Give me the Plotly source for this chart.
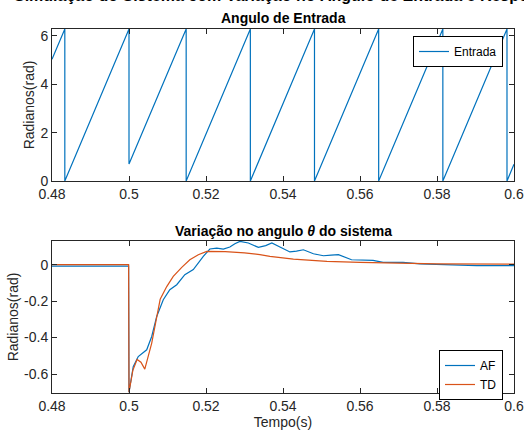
import plotly.graph_objects as go

# ---- Data ----
# Input angle (sawtooth) vertices
entrada_t = [0.48, 0.48333, 0.48333, 0.5, 0.5, 0.51485, 0.51485, 0.53152, 0.53152,
             0.54818, 0.54818, 0.56485, 0.56485, 0.58152, 0.58152, 0.59818, 0.59818, 0.6]
entrada_v = [5.03, 6.283, 0.0, 6.283, 0.70, 6.283, 0.0, 6.283, 0.0,
             6.283, 0.0, 6.283, 0.0, 6.283, 0.0, 6.283, 0.0, 0.69]

# AF response
af_t = [0.48, 0.4999, 0.5, 0.5011, 0.5024, 0.5037, 0.5046, 0.5059, 0.5072, 0.5089,
        0.5106, 0.5124, 0.5145, 0.5167, 0.5193, 0.521, 0.5228, 0.5245, 0.5262, 0.5275,
        0.5288, 0.531, 0.5336, 0.5355, 0.5371, 0.5392, 0.5418, 0.5435, 0.5453, 0.5479,
        0.5505, 0.5525, 0.5544, 0.5578, 0.5610, 0.5634, 0.566, 0.5712, 0.5756, 0.5825,
        0.5903, 0.6]
af_v = [-0.008, -0.008, -0.70, -0.56, -0.504, -0.482, -0.467, -0.394, -0.284, -0.192,
        -0.137, -0.11, -0.055, -0.027, 0.046, 0.086, 0.091, 0.086, 0.097, 0.115,
        0.128, 0.119, 0.095, 0.105, 0.119, 0.097, 0.07, 0.074, 0.082, 0.06,
        0.049, 0.053, 0.055, 0.027, 0.026, 0.024, 0.013, 0.013, 0.005, 0.0,
        -0.005, -0.005]

# TD response
td_t = [0.48, 0.4999, 0.5, 0.5010, 0.5021, 0.5031, 0.5041, 0.5050, 0.5059, 0.5070,
        0.5081, 0.5098, 0.5115, 0.5137, 0.5158, 0.518, 0.5202, 0.525, 0.53, 0.534,
        0.5366, 0.5427, 0.5514, 0.56, 0.5686, 0.58, 0.6]
td_v = [0.0, 0.0, -0.70, -0.58, -0.52, -0.535, -0.573, -0.50, -0.43, -0.31,
        -0.19, -0.12, -0.064, -0.015, 0.027, 0.055, 0.073, 0.072, 0.065, 0.055,
        0.046, 0.031, 0.018, 0.013, 0.009, 0.004, 0.003]

x_ticks = [0.48, 0.5, 0.52, 0.54, 0.56, 0.58, 0.6]
x_tick_text = ["0.48", "0.5", "0.52", "0.54", "0.56", "0.58", "0.6"]
top_y_ticks = [0, 2, 4, 6]
bot_y_ticks = [-0.6, -0.4, -0.2, 0]
bot_y_text = ["-0.6", "-0.4", "-0.2", "0"]

BLUE = "#0072BD"
ORANGE = "#D95319"
AX = "#262626"
FONT = "Liberation Sans, Arial, sans-serif"

W, H = 524, 432
ml, mr, mt, mb = 52, 10, 29, 39
ph = H - mt - mb
top_dom = [(H - mb - 181) / ph, 1.0]
bot_dom = [0.0, (H - mb - 241) / ph]

fig = go.Figure()
fig.add_trace(go.Scatter(x=entrada_t, y=entrada_v, mode="lines", name="Entrada",
                         line=dict(color=BLUE, width=1.2), xaxis="x", yaxis="y",
                         legend="legend"))
fig.add_trace(go.Scatter(x=af_t, y=af_v, mode="lines", name="AF",
                         line=dict(color=BLUE, width=1.2),
                         xaxis="x2", yaxis="y2", legend="legend2"))
fig.add_trace(go.Scatter(x=td_t, y=td_v, mode="lines", name="TD",
                         line=dict(color=ORANGE, width=1.2),
                         xaxis="x2", yaxis="y2", legend="legend2"))

axcommon = dict(showline=True, linecolor=AX, linewidth=1, mirror="ticks",
                ticks="inside", ticklen=5, tickcolor=AX, showgrid=False, zeroline=False,
                automargin=False,
                tickfont=dict(family=FONT, size=14, color=AX))

fig.update_layout(
    width=W, height=H,
    margin=dict(l=ml, r=mr, t=mt, b=mb),
    paper_bgcolor="white", plot_bgcolor="white",
    font=dict(family=FONT, color=AX),
    xaxis=dict(domain=[0, 1], anchor="y", range=[0.48, 0.6], tickvals=x_ticks,
               ticktext=x_tick_text, **axcommon),
    yaxis=dict(domain=top_dom, anchor="x", range=[0, 6.2832], tickvals=top_y_ticks,
               title=dict(text="Radianos(rad)", font=dict(family=FONT, size=14, color=AX),
                          standoff=2), **axcommon),
    xaxis2=dict(domain=[0, 1], anchor="y2", range=[0.48, 0.6], tickvals=x_ticks,
                ticktext=x_tick_text,
                title=dict(text="Tempo(s)", font=dict(family=FONT, size=14, color=AX),
                           standoff=4), **axcommon),
    yaxis2=dict(domain=bot_dom, anchor="x2", range=[-0.704, 0.13], tickvals=bot_y_ticks,
                ticktext=bot_y_text,
                title=dict(text="Radianos(rad)", font=dict(family=FONT, size=14, color=AX),
                           standoff=2), **axcommon),
    legend=dict(x=(503 - ml) / (W - ml - mr), y=1 - (36 - mt) / ph,
                xanchor="right", yanchor="top", bgcolor="white",
                bordercolor="black", borderwidth=1,
                font=dict(family=FONT, size=12, color="black"), tracegroupgap=0),
    legend2=dict(x=(503 - ml) / (W - ml - mr), y=(H - mb - 350) / ph,
                 xanchor="right", yanchor="top", bgcolor="white",
                 bordercolor="black", borderwidth=1,
                 font=dict(family=FONT, size=12, color="black"), tracegroupgap=0),
    showlegend=True,
)

fig.add_annotation(text="<b>Angulo de Entrada</b>", xref="paper", yref="paper",
                   x=0.5, y=1 + (29 - 18) / ph, yanchor="middle", showarrow=False,
                   font=dict(family=FONT, size=14, color="black"))
fig.add_annotation(text="<b>Variação no angulo <i>θ</i> do sistema</b>", xref="paper",
                   yref="paper", x=0.5, y=(H - mb - 231) / ph, yanchor="middle",
                   showarrow=False, font=dict(family=FONT, size=14, color="black"))
fig.add_annotation(text="<b>Simulação do Sistema com Variação no Ângulo de Entrada e Resposta</b>",
                   xref="paper", yref="paper", x=0.5, y=1 + 23 / ph, yanchor="bottom",
                   showarrow=False, font=dict(family=FONT, size=16, color="black"))

fig.write_html("out.html", config={"displayModeBar": False},
               post_script="document.body.style.margin='0';document.body.style.overflow='hidden';")
